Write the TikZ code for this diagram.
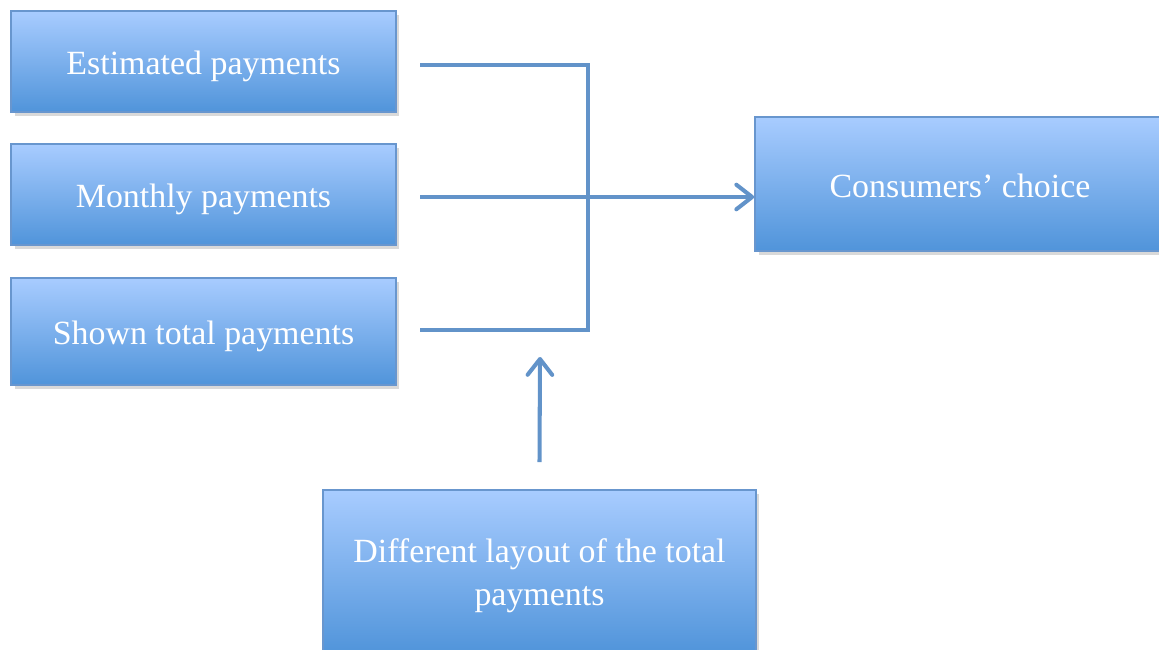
\documentclass[tikz,border=0pt]{standalone}
\usepackage{fontspec}
\setmainfont{Liberation Serif}
\usetikzlibrary{arrows.meta,shadows}
\definecolor{linkblue}{RGB}{98,147,201}
\definecolor{boxtop}{RGB}{168,204,255}
\definecolor{boxbot}{RGB}{80,148,218}
\definecolor{boxedge}{RGB}{104,150,206}
\tikzset{>={Straight Barb[length=9pt,width=14pt,round]}}
\tikzset{
  factor/.style={draw=boxedge, line width=1pt, top color=boxtop, bottom color=boxbot,
    text=white, align=center, inner sep=0pt, font=\fontsize{19.3}{24}\selectfont,
    drop shadow={shadow xshift=2pt, shadow yshift=-2.5pt, opacity=0.3}},
  oneline/.style={factor, text height=15pt, text depth=0pt},
  link/.style={linkblue, line width=2.3pt},
}

\begin{document}
\begin{tikzpicture}[x=0.02cm,y=-0.02cm]
  \useasboundingbox (0,0) rectangle (1159,649);
  % factors
  \node[oneline, minimum width=7.7cm, minimum height=2.02cm] (est) at (203.5,61.5) {Estimated payments};
  \node[oneline, minimum width=7.7cm, minimum height=2.02cm] (mon) at (203.5,194.5) {Monthly payments};
  \node[oneline, minimum width=7.7cm, minimum height=2.14cm] (tot) at (203.5,331.5) {Shown total payments};
  % outcome
  \node[oneline, minimum width=8.2cm, minimum height=2.68cm] (choice) at (960,184) {Consumers' choice};
  % moderator
  \node[factor, minimum width=8.66cm, minimum height=3.28cm, text depth=0pt] (lay) at (539.5,572) {Different layout of the total\\payments};
  % bracket
  \coordinate (s1) at (420,65);
  \coordinate (s2) at (420,197);
  \coordinate (s3) at (420,330);
  \coordinate (jt) at (588,65);
  \coordinate (jb) at (588,330);
  \coordinate (up) at (540,357);
  \draw[link] (s1) -- (jt) -- (jb) -- (s3);
  \draw[link,->] (s2) -- (choice.west |- s2);
  \draw[link,->] ([yshift=0.54cm]lay.north) -- (up);
\end{tikzpicture}
\end{document}
